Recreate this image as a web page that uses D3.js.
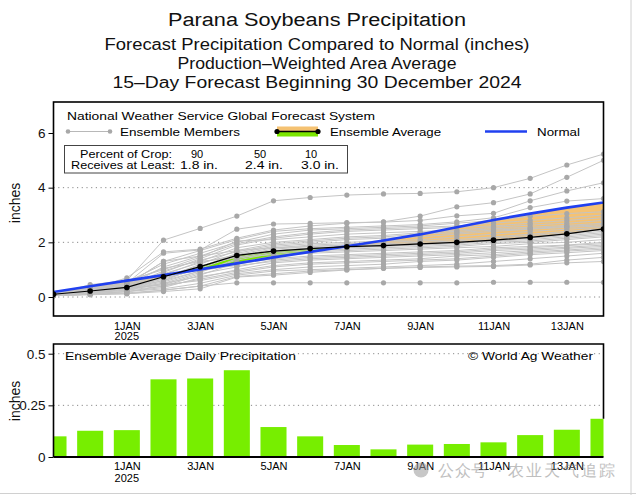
<!DOCTYPE html>
<html><head><meta charset="utf-8">
<script src="https://cdn.jsdelivr.net/npm/d3@7"></script>
<style>
body{margin:0;background:#fff}
svg{display:block}
text{font-family:"Liberation Sans",Arial,sans-serif}
</style>
</head><body>
<svg id="c" width="636" height="495"></svg>
<script>
// ---------------- DATA ----------------
const titleLines = [
  "Parana Soybeans Precipitation",
  "Forecast Precipitation Compared to Normal (inches)",
  "Production\u2013Weighted Area Average",
  "15\u2013Day Forecast Beginning 30 December 2024"
];
const days = ["30DEC","31DEC","1JAN","2JAN","3JAN","4JAN","5JAN","6JAN","7JAN","8JAN","9JAN","10JAN","11JAN","12JAN","13JAN","14JAN"];
const tickLabels = ["1JAN","3JAN","5JAN","7JAN","9JAN","11JAN","13JAN"];
const yTicksTop = [0,2,4,6];
const yTicksBottom = [0,0.25,0.5];
const normal      = [0.18,0.39,0.60,0.80,1.01,1.23,1.45,1.65,1.86,2.07,2.29,2.55,2.82,3.05,3.27,3.46];
const ensembleAvg = [0.10,0.22,0.35,0.74,1.11,1.52,1.68,1.77,1.84,1.88,1.94,2.00,2.08,2.18,2.31,2.49];
const dailyAvg    = [0.100,0.127,0.130,0.376,0.380,0.420,0.145,0.100,0.058,0.037,0.060,0.063,0.071,0.106,0.132,0.185];
const members = [
  [0.12,0.35,0.60,2.08,2.51,2.96,3.52,3.64,3.73,3.77,3.79,3.85,4.00,4.34,4.83,5.23],
  [0.10,0.30,0.70,1.65,1.75,2.15,2.45,2.60,2.70,2.75,2.96,3.30,3.45,3.77,4.38,5.00],
  [0.10,0.25,0.50,1.60,1.72,2.48,2.67,2.69,2.72,2.74,2.80,2.97,3.06,3.52,3.88,4.18],
  [0.08,0.20,0.45,1.30,1.70,2.10,2.40,2.50,2.55,2.60,2.65,2.75,2.90,3.27,3.51,3.60],
  [0.10,0.30,0.55,1.20,1.60,2.00,2.30,2.45,2.50,2.55,2.60,2.70,2.80,2.95,3.05,3.12],
  [0.10,0.20,0.40,1.10,1.50,1.95,2.20,2.35,2.45,2.50,2.55,2.60,2.70,2.80,2.90,3.00],
  [0.08,0.15,0.35,0.90,1.40,1.90,2.15,2.30,2.40,2.45,2.50,2.55,2.60,2.70,2.80,2.90],
  [0.10,0.45,0.60,1.00,1.45,2.05,2.10,2.20,2.30,2.35,2.40,2.45,2.55,2.63,2.70,2.80],
  [0.12,0.30,0.45,0.80,1.30,1.80,2.00,2.10,2.20,2.25,2.35,2.40,2.50,2.55,2.62,2.70],
  [0.05,0.15,0.30,0.70,1.20,1.70,1.95,2.05,2.15,2.20,2.30,2.35,2.45,2.50,2.58,2.65],
  [0.10,0.20,0.40,0.95,1.35,1.65,1.90,2.00,2.10,2.15,2.20,2.30,2.40,2.48,2.55,2.60],
  [0.06,0.18,0.30,0.60,1.10,1.60,1.85,1.95,2.00,2.05,2.10,2.20,2.30,2.40,2.48,2.55],
  [0.10,0.22,0.50,0.85,1.25,1.55,1.80,1.90,1.95,2.00,2.05,2.10,2.20,2.30,2.40,2.50],
  [0.08,0.20,0.35,0.65,1.05,1.50,1.75,1.85,1.90,1.95,2.00,2.05,2.15,2.25,2.35,2.45],
  [0.10,0.25,0.40,0.75,1.15,1.45,1.70,1.80,1.85,1.90,1.95,2.00,2.10,2.20,2.30,2.40],
  [0.07,0.15,0.25,0.50,0.90,1.40,1.65,1.75,1.80,1.85,1.90,1.95,2.05,2.15,2.25,2.35],
  [0.10,0.20,0.45,1.30,1.50,1.70,1.80,1.85,1.90,1.92,1.95,2.00,2.05,2.10,2.20,2.30],
  [0.09,0.18,0.30,0.55,0.95,1.35,1.60,1.70,1.75,1.80,1.85,1.90,2.00,2.05,2.15,2.25],
  [0.11,0.28,0.55,1.05,1.30,1.45,1.55,1.65,1.70,1.75,1.80,1.85,1.95,2.00,2.10,2.20],
  [0.06,0.12,0.20,0.40,0.80,1.25,1.50,1.60,1.65,1.70,1.75,1.80,1.85,1.95,2.00,2.10],
  [0.10,0.20,0.35,0.60,0.95,1.20,1.40,1.50,1.55,1.60,1.65,1.70,1.80,1.85,1.90,2.00],
  [0.08,0.15,0.30,0.45,0.85,1.10,1.35,1.45,1.50,1.55,1.60,1.65,1.75,1.80,1.88,1.95],
  [0.10,0.22,0.40,0.70,1.00,1.15,1.30,1.40,1.45,1.50,1.55,1.60,1.70,1.75,1.82,1.90],
  [0.05,0.10,0.20,0.35,0.70,1.00,1.25,1.35,1.40,1.45,1.50,1.55,1.62,1.70,1.78,1.85],
  [0.10,0.20,0.30,0.50,0.75,0.95,1.15,1.25,1.30,1.35,1.40,1.50,1.55,1.65,1.72,1.80],
  [0.08,0.15,0.25,0.40,0.65,0.90,1.10,1.20,1.25,1.30,1.35,1.40,1.50,1.60,1.68,1.75],
  [0.10,0.18,0.30,0.45,0.60,0.85,1.00,1.10,1.15,1.20,1.30,1.35,1.45,1.55,1.62,1.70],
  [0.07,0.12,0.20,0.30,0.50,0.80,0.95,1.00,1.05,1.10,1.15,1.20,1.30,1.40,1.50,1.60],
  [0.06,0.10,0.15,0.25,0.40,0.75,0.85,0.95,1.00,1.05,1.10,1.13,1.15,1.20,1.35,1.45],
  [0.05,0.10,0.12,0.20,0.30,0.73,0.80,0.90,0.99,1.05,1.08,1.10,1.12,1.17,1.25,1.30],
  [0.05,0.08,0.12,0.25,0.40,0.52,0.52,0.52,0.52,0.52,0.52,0.52,0.54,0.54,0.54,0.54]
];
const cropPercent = ["90","50","10"];
const cropAmount  = ["1.8 in.","2.4 in.","3.0 in."];

// ---------------- LAYOUT ----------------
const svg = d3.select("#c");
const L = 53.5, R = 603.5, T1 = 102, B1 = 316, T2 = 344, B2 = 457;
const FONT = '"Liberation Sans",Arial,sans-serif';
const NARROW = '"Liberation Sans Narrow","Liberation Sans",Arial,sans-serif';
const idx = d3.range(days.length);

const x = d3.scaleLinear().domain([0, days.length - 1]).range([L, R]);
const yT = d3.scaleLinear().domain([0, 6]).range([297, 133]);
const yB = d3.scaleLinear().domain([0, 0.5]).range([457, 353.7]);

const defs = svg.append("defs");
defs.append("clipPath").attr("id","clipTop").append("rect")
  .attr("x",L).attr("y",T1).attr("width",R-L).attr("height",B1-T1);
defs.append("clipPath").attr("id","clipBot").append("rect")
  .attr("x",L).attr("y",T2).attr("width",R-L).attr("height",B2-T2);
defs.append("clipPath").attr("id","above").append("path")
  .attr("d", d3.area().x(i=>x(i)).y0(T1-10).y1(i=>yT(normal[i]))(idx));
defs.append("clipPath").attr("id","below").append("path")
  .attr("d", d3.area().x(i=>x(i)).y0(i=>yT(normal[i])).y1(B1+10)(idx));

// outer light border
svg.append("line").attr("x1",631).attr("x2",631).attr("y1",0).attr("y2",495).attr("stroke","#d0d0d0");
svg.append("line").attr("x1",0).attr("x2",636).attr("y1",493.5).attr("y2",493.5).attr("stroke","#d0d0d0");

// titles
const tY = [26, 50, 68.5, 87.5], tS = [18, 16, 16, 16], tLen = [298, 425, 279, 409];
titleLines.forEach((t,i)=>{
  svg.append("text").attr("x",317).attr("y",tY[i]).attr("text-anchor","middle")
    .attr("font-size",tS[i]).attr("fill","#111")
    .attr("textLength",tLen[i]).attr("lengthAdjust","spacingAndGlyphs").text(t);
});

// ---------------- TOP PANEL ----------------
const topG = svg.append("g");
topG.append("g").selectAll("line").data([0,2,4]).join("line")
  .attr("x1",L).attr("x2",R).attr("y1",d=>yT(d)).attr("y2",d=>yT(d))
  .attr("stroke","#8a8a8a").attr("stroke-dasharray","1.2,3.5");

const plotT = topG.append("g").attr("clip-path","url(#clipTop)");
const fillArea = d3.area().x(i=>x(i)).y0(i=>yT(normal[i])).y1(i=>yT(ensembleAvg[i]));
plotT.append("path").attr("d",fillArea(idx)).attr("fill","#f5c272").attr("clip-path","url(#below)");
plotT.append("path").attr("d",fillArea(idx)).attr("fill","#7be600").attr("clip-path","url(#above)");

const line = arr => d3.line().x(i=>x(i)).y(i=>yT(arr[i]))(idx);
plotT.append("g").selectAll("path").data(members).join("path")
  .attr("d",m=>line(m)).attr("fill","none").attr("stroke","#c4c4c4").attr("stroke-width",1);
members.forEach(m=>{
  plotT.append("g").selectAll("circle").data(idx).join("circle")
    .attr("cx",i=>x(i)).attr("cy",i=>yT(m[i])).attr("r",2.6).attr("fill","#a8a8a8");
});
plotT.append("path").attr("d",line(normal)).attr("fill","none").attr("stroke","#2040f0").attr("stroke-width",2.6);
plotT.append("path").attr("d",line(ensembleAvg)).attr("fill","none").attr("stroke","#000").attr("stroke-width",1.2);
plotT.append("g").selectAll("circle").data(idx).join("circle")
  .attr("cx",i=>x(i)).attr("cy",i=>yT(ensembleAvg[i])).attr("r",2.8).attr("fill","#000");

topG.append("rect").attr("x",L).attr("y",T1).attr("width",R-L).attr("height",B1-T1)
  .attr("fill","none").attr("stroke","#000").attr("stroke-width",1.6);

const gyT = topG.append("g").attr("transform",`translate(${L},0)`)
  .call(d3.axisLeft(yT).tickValues(yTicksTop).tickSize(5).tickPadding(3).tickFormat(d3.format("d")));
gyT.select(".domain").remove();
gyT.selectAll("text").attr("font-size",13.5).attr("font-family",FONT).attr("fill","#111");
gyT.selectAll("line").attr("stroke","#000");

const tickIdx = tickLabels.map(l=>days.indexOf(l));
const gxT = topG.append("g").attr("transform",`translate(0,${B1})`)
  .call(d3.axisBottom(x).tickValues(tickIdx).tickSize(0).tickPadding(6).tickFormat(i=>days[i]));
gxT.select(".domain").remove();
gxT.selectAll("text").attr("font-size",11).attr("font-family",NARROW).attr("fill","#000");
topG.append("text").attr("x",x(days.indexOf("1JAN"))).attr("y",339.5).attr("text-anchor","middle")
  .attr("font-size",11).attr("font-family",NARROW).text("2025");

topG.append("text").attr("transform","translate(20,203) rotate(-90)").attr("text-anchor","middle")
  .attr("font-size",14).attr("fill","#111").text("inches");

// legend
const lg = topG.append("g");
lg.append("text").attr("x",67).attr("y",119.5).attr("font-size",11.5)
  .attr("textLength",308).attr("lengthAdjust","spacingAndGlyphs").text("National Weather Service Global Forecast System");
lg.append("line").attr("x1",68).attr("x2",110).attr("y1",131.5).attr("y2",131.5).attr("stroke","#b8b8b8");
lg.selectAll("circle.m").data([68,110]).join("circle").attr("class","m")
  .attr("cx",d=>d).attr("cy",131.5).attr("r",2.3).attr("fill","#a8a8a8");
lg.append("text").attr("x",120).attr("y",135.5).attr("font-size",11.5)
  .attr("textLength",120).attr("lengthAdjust","spacingAndGlyphs").text("Ensemble Members");
lg.append("rect").attr("x",277).attr("y",126.5).attr("width",41).attr("height",5).attr("fill","#f5c272");
lg.append("rect").attr("x",277).attr("y",131.5).attr("width",41).attr("height",5).attr("fill","#7be600");
lg.append("line").attr("x1",277).attr("x2",318).attr("y1",131.5).attr("y2",131.5).attr("stroke","#000").attr("stroke-width",1.3);
lg.selectAll("circle.e").data([277,318]).join("circle").attr("class","e")
  .attr("cx",d=>d).attr("cy",131.5).attr("r",2.6).attr("fill","#000");
lg.append("text").attr("x",330).attr("y",135.5).attr("font-size",11.5)
  .attr("textLength",111).attr("lengthAdjust","spacingAndGlyphs").text("Ensemble Average");
lg.append("line").attr("x1",485).attr("x2",527).attr("y1",131.5).attr("y2",131.5).attr("stroke","#2040f0").attr("stroke-width",2.6);
lg.append("text").attr("x",537).attr("y",135.5).attr("font-size",11.5)
  .attr("textLength",43).attr("lengthAdjust","spacingAndGlyphs").text("Normal");

lg.append("rect").attr("x",64.5).attr("y",145.5).attr("width",283).attr("height",27.5)
  .attr("fill","#fff").attr("stroke","#444").attr("stroke-width",1);
lg.append("text").attr("x",80).attr("y",157.5).attr("font-size",11)
  .attr("textLength",92).attr("lengthAdjust","spacingAndGlyphs").text("Percent of Crop:");
lg.append("text").attr("x",71).attr("y",168.5).attr("font-size",11)
  .attr("textLength",104).attr("lengthAdjust","spacingAndGlyphs").text("Receives at Least:");
const pcx = [197, 260, 311], amx = [199, 264, 320];
cropPercent.forEach((t,i)=>lg.append("text").attr("x",pcx[i]).attr("y",157.5).attr("font-size",11)
  .attr("text-anchor","middle").text(t));
cropAmount.forEach((t,i)=>lg.append("text").attr("x",amx[i]).attr("y",168.5).attr("font-size",11)
  .attr("text-anchor","middle").attr("textLength",38).attr("lengthAdjust","spacingAndGlyphs").text(t));

// ---------------- BOTTOM PANEL ----------------
const botG = svg.append("g");
botG.append("g").selectAll("line").data([0.25,0.5]).join("line")
  .attr("x1",L).attr("x2",R).attr("y1",d=>yB(d)).attr("y2",d=>yB(d))
  .attr("stroke","#8a8a8a").attr("stroke-dasharray","1.2,3.5");
const bw = x(0.71) - x(0);
botG.append("g").attr("clip-path","url(#clipBot)").selectAll("rect").data(idx).join("rect")
  .attr("x",i=>x(i)-bw/2).attr("width",bw)
  .attr("y",i=>yB(dailyAvg[i])).attr("height",i=>yB(0)-yB(dailyAvg[i]))
  .attr("fill","#77ee00");
botG.append("path").attr("d",`M${L},${B2}V${T2}H${R}V${yB(dailyAvg[15])}`)
  .attr("fill","none").attr("stroke","#000").attr("stroke-width",1.6);
botG.append("line").attr("x1",L).attr("x2",R).attr("y1",B2).attr("y2",B2).attr("stroke","#000").attr("stroke-width",2);

const gyB = botG.append("g").attr("transform",`translate(${L},0)`)
  .call(d3.axisLeft(yB).tickValues(yTicksBottom).tickSize(5).tickPadding(3).tickFormat(d=>String(d)));
gyB.select(".domain").remove();
gyB.selectAll("text").attr("font-size",13.5).attr("font-family",FONT).attr("fill","#111");
gyB.selectAll("line").attr("stroke","#000");

const gxB = botG.append("g").attr("transform",`translate(0,${B2})`)
  .call(d3.axisBottom(x).tickValues(tickIdx).tickSize(0).tickPadding(5.5).tickFormat(i=>days[i]));
gxB.select(".domain").remove();
gxB.selectAll("text").attr("font-size",11).attr("font-family",NARROW).attr("fill","#000");
botG.append("text").attr("x",x(days.indexOf("1JAN"))).attr("y",482).attr("text-anchor","middle")
  .attr("font-size",11).attr("font-family",NARROW).text("2025");

botG.append("text").attr("transform","translate(20,401) rotate(-90)").attr("text-anchor","middle")
  .attr("font-size",14).attr("fill","#111").text("inches");

botG.append("text").attr("x",65).attr("y",359.5).attr("font-size",11.5)
  .attr("textLength",231).attr("lengthAdjust","spacingAndGlyphs").text("Ensemble Average Daily Precipitation");
botG.append("text").attr("x",468).attr("y",359.5).attr("font-size",11.5)
  .attr("textLength",125).attr("lengthAdjust","spacingAndGlyphs").text("\u00A9 World Ag Weather");

// watermark
const wm = svg.append("g").attr("opacity",0.55);
wm.append("circle").attr("cx",421).attr("cy",470).attr("r",7.5).attr("fill","#9a9a9a");
wm.append("text").attr("x",438).attr("y",476).attr("font-size",16)
  .attr("font-family",'"Noto Sans CJK SC",sans-serif').attr("fill","#8a8a8a")
  .attr("textLength",49).text("公众号");
wm.append("text").attr("x",497).attr("y",476).attr("font-size",16)
  .attr("font-family",'"Noto Sans CJK SC",sans-serif').attr("fill","#8a8a8a").text("·");
wm.append("text").attr("x",508).attr("y",476).attr("font-size",16)
  .attr("font-family",'"Noto Sans CJK SC",sans-serif').attr("fill","#8a8a8a")
  .attr("textLength",107).text("农业天气追踪");
</script>
</body></html>
